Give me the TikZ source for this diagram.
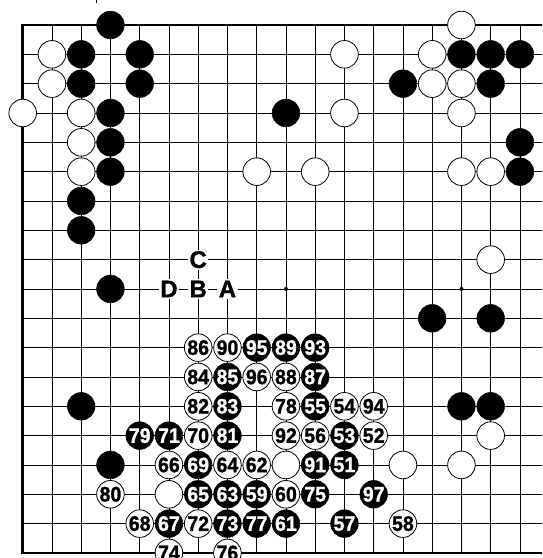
\documentclass[tikz,border=0pt]{standalone}
\usepackage{fontspec}
\setmainfont{Liberation Sans}
\newfontfamily\numfont[FakeStretch=0.93,FakeBold=1.2]{Liberation Sans Bold}
\newfontfamily\lblfont[FakeBold=1.2]{Liberation Sans Bold}
\begin{document}
\begin{tikzpicture}[x=29.25pt,y=-29.33pt,
  bstone/.style={circle,fill=black,draw=black,line width=0.6pt,minimum size=27.6pt,inner sep=0pt,text=white,font=\numfont\fontsize{21}{21}\selectfont},
  wstone/.style={circle,fill=white,draw=black,line width=0.8pt,minimum size=27.6pt,inner sep=0pt,text=black,font=\numfont\fontsize{21}{21}\selectfont},
  lbl/.style={fill=white,inner sep=1.5pt,font=\lblfont\fontsize{24}{24}\selectfont},
  gridline/.style={line width=0.8pt},
  border/.style={line width=2.6pt},
  hoshi/.style={circle,fill=black,inner sep=0pt,minimum size=4pt}]
\useasboundingbox (-0.7761,-0.8524) rectangle (17.7539,18.1725);
\clip (-0.7761,-0.8524) rectangle (17.7539,18.1725);
% grid
\foreach \r in {1,...,17} \draw[gridline] (0,\r) -- (18,\r);
\foreach \c in {1,...,17} \draw[gridline] (\c,0) -- (\c,18);
\draw[border] (18,0) -- (0,0) -- (0,18) -- (18,18);
% small mark at top
\draw[line width=0.8pt] (2.506,-0.86) -- (2.506,-0.75);
% star points
\node[hoshi] (h1) at (9,9) {};
\node[hoshi] (h2) at (15,9) {};
% unnumbered black stones
\foreach \x/\y in {3/0,2/1,4/1,2/2,4/2,3/3,9/3,3/4,3/5,2/6,2/7,3/9,15/1,16/1,17/1,13/2,16/2,17/4,17/5,14/10,16/10,2/13,15/13,16/13,3/15}
  \node[bstone] (b\x-\y) at (\x,\y) {};
% unnumbered white stones
\foreach \x/\y in {1/1,1/2,0/3,2/3,2/4,2/5,8/5,15/0,11/1,14/1,14/2,15/2,11/3,15/3,10/5,15/5,16/5,16/8,16/14,9/15,13/15,15/15,5/16}
  \node[wstone] (w\x-\y) at (\x,\y) {};
% numbered black stones
\foreach \n/\x/\y in {95/8/11,89/9/11,93/10/11,85/7/12,87/10/12,83/7/13,55/10/13,79/4/14,71/5/14,81/7/14,53/11/14,69/6/15,91/10/15,51/11/15,65/6/16,63/7/16,59/8/16,75/10/16,97/12/16,67/5/17,73/7/17,77/8/17,61/9/17,57/11/17}
  \node[bstone] (m\n) at (\x,\y) {\n};
% numbered white stones
\foreach \n/\x/\y in {86/6/11,90/7/11,84/6/12,96/8/12,88/9/12,82/6/13,78/9/13,54/11/13,94/12/13,70/6/14,92/9/14,56/10/14,52/12/14,66/5/15,64/7/15,62/8/15,80/3/16,60/9/16,68/4/17,72/6/17,58/13/17,74/5/18,76/7/18}
  \node[wstone] (m\n) at (\x,\y) {\n};
% letter labels
\node[lbl] (lC) at (6,8) {C};
\node[lbl] (lD) at (5,9) {D};
\node[lbl] (lB) at (6,9) {B};
\node[lbl] (lA) at (7,9) {A};
\end{tikzpicture}
\end{document}
